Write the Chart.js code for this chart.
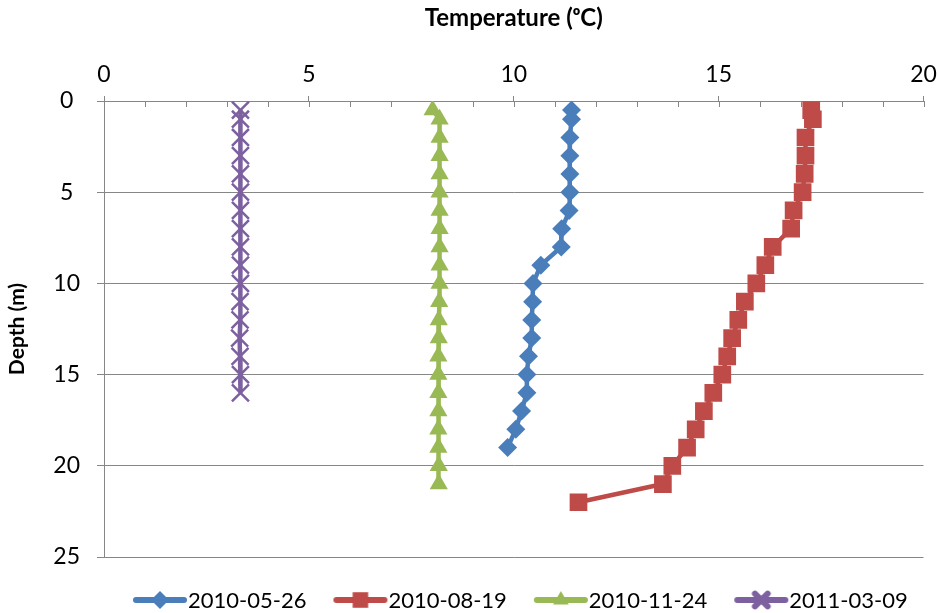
<!DOCTYPE html>
<html>
<head>
<meta charset="utf-8">
<script src="https://cdn.jsdelivr.net/npm/chart.js@4.4.1/dist/chart.umd.min.js"></script>
<style>
  html, body { margin: 0; background: #fff; }
</style>
</head>
<body>
<canvas id="chart" width="938" height="613"></canvas>
<script>
// Series names (sampling dates)
const seriesNames = ['2010-05-26', '2010-08-19', '2010-11-24', '2011-03-09'];

// Depth (m) of each measurement
const depthMay = [0.5, 1, 2, 3, 4, 5, 6, 7, 8, 9, 10, 11, 12, 13, 14, 15, 16, 17, 18, 19];
const depthAug = [0.5, 1, 2, 3, 4, 5, 6, 7, 8, 9, 10, 11, 12, 13, 14, 15, 16, 17, 18, 19, 20, 21, 22];
const depthNov = [0.5, 1, 2, 3, 4, 5, 6, 7, 8, 9, 10, 11, 12, 13, 14, 15, 16, 17, 18, 19, 20, 21];
const depthMar = [0.5, 1, 2, 3, 4, 5, 6, 7, 8, 9, 10, 11, 12, 13, 14, 15, 16];

// Temperature (C) at those depths
const tempMay = [11.41, 11.41, 11.37, 11.37, 11.37, 11.37, 11.35, 11.17, 11.16, 10.66,
                 10.47, 10.46, 10.44, 10.44, 10.36, 10.32, 10.32, 10.19, 10.05, 9.85];
const tempAug = [17.26, 17.30, 17.12, 17.12, 17.10, 17.05, 16.83, 16.77, 16.32, 16.14,
                 15.92, 15.64, 15.48, 15.33, 15.21, 15.09, 14.87, 14.64, 14.44, 14.23,
                 13.87, 13.64, 11.58];
const tempNov = [8.02, 8.19, 8.19, 8.19, 8.19, 8.19, 8.19, 8.19, 8.19, 8.19, 8.19,
                 8.18, 8.17, 8.17, 8.16, 8.16, 8.16, 8.16, 8.16, 8.16, 8.17, 8.17];
const tempMar = [3.33, 3.33, 3.33, 3.33, 3.33, 3.33, 3.33, 3.33, 3.33, 3.33, 3.33,
                 3.32, 3.32, 3.31, 3.32, 3.33, 3.33];

// Axis ticks
const xTicks = [0, 5, 10, 15, 20];
const yTicks = [0, 5, 10, 15, 20, 25];

const colors = ['#4A7EBB', '#BE4B48', '#98B954', '#7D60A0'];
const styles = ['rectRot', 'rect', 'triangle', 'crossRot'];
const radii = [9.5, 12.5, 10.5, 12];
const FONT = 'Lato, "Open Sans", sans-serif';
const GRID = '#868686';

function toPoints(xs, ys) {
    return xs.map((x, i) => ({ x: x, y: ys[i] }));
}

const allTemps = [tempMay, tempAug, tempNov, tempMar];
const allDepths = [depthMay, depthAug, depthNov, depthMar];

const datasets = seriesNames.map((name, i) => ({
    label: name,
    data: toPoints(allTemps[i], allDepths[i]),
    showLine: true,
    borderColor: colors[i],
    backgroundColor: colors[i],
    borderWidth: 4.5,
    pointStyle: styles[i],
    pointRadius: radii[i],
    pointBorderWidth: styles[i] === 'crossRot' ? 2.5 : 0,
    pointBorderColor: colors[i],
    pointBackgroundColor: colors[i],
    tension: 0
}));

// Legend icon: a line with the marker on top
function legendIcon(i) {
    const c = document.createElement('canvas');
    c.width = 56; c.height = 24;
    const ctx = c.getContext('2d');
    ctx.strokeStyle = colors[i];
    ctx.lineWidth = 6;
    ctx.lineCap = 'round';
    ctx.beginPath();
    ctx.moveTo(4, 12);
    ctx.lineTo(52, 12);
    ctx.stroke();
    ctx.fillStyle = colors[i];
    ctx.strokeStyle = colors[i];
    Chart.helpers.drawPoint(ctx, {
        pointStyle: styles[i],
        radius: styles[i] === 'rect' ? 11 : 9,
        rotation: 0,
        borderWidth: styles[i] === 'crossRot' ? 2 : 0
    }, 28, 12);
    return c;
}

// Small inward tick marks on the temperature axis
const innerTicks = {
    id: 'innerTicks',
    beforeDatasetsDraw(chart) {
        const x = chart.scales.x;
        const ctx = chart.ctx;
        ctx.save();
        ctx.strokeStyle = GRID;
        ctx.lineWidth = 1;
        for (let v = 0; v <= 20; v++) {
            const px = Math.round(x.getPixelForValue(v)) + 0.5;
            ctx.beginPath();
            ctx.moveTo(px, chart.chartArea.top);
            ctx.lineTo(px, chart.chartArea.top + 6);
            ctx.stroke();
        }
        ctx.restore();
    }
};

// Legend row under the plot, Excel style (line + marker, then the label)
const lineLegend = {
    id: 'lineLegend',
    afterDraw(chart) {
        const ctx = chart.ctx;
        const y = chart.chartArea.bottom + 43;
        let x = chart.chartArea.left + 28;
        ctx.save();
        ctx.font = '22px ' + FONT;
        ctx.textBaseline = 'middle';
        ctx.fillStyle = '#000';
        seriesNames.forEach((name, i) => {
            ctx.drawImage(legendIcon(i), x, y - 12);
            ctx.fillText(name, x + 56, y + 1);
            x += 56 + ctx.measureText(name).width + 26;
        });
        ctx.restore();
    }
};

new Chart(document.getElementById('chart'), {
    type: 'scatter',
    data: { datasets: datasets },
    options: {
        responsive: false,
        animation: false,
        layout: { padding: { left: 0, right: 13, top: 0, bottom: 56 } },
        scales: {
            x: {
                type: 'linear',
                position: 'top',
                min: 0,
                max: 20,
                afterFit: s => { s.height = 101; s.paddingLeft = 0; s.paddingRight = 0; },
                afterBuildTicks: s => { s.ticks = xTicks.map(v => ({ value: v })); },
                ticks: {
                    font: { family: FONT, size: 23 },
                    color: '#000',
                    padding: 8,
                    maxRotation: 0,
                    autoSkip: false
                },
                grid: { drawOnChartArea: false, drawTicks: true, tickLength: 5, color: GRID },
                border: { color: GRID, width: 1 },
                title: {
                    display: true,
                    text: 'Temperature (\u1D52C)',
                    font: { family: FONT, size: 24, weight: 'bold' },
                    color: '#000',
                    padding: { top: 4, bottom: 0 }
                }
            },
            y: {
                type: 'linear',
                reverse: true,
                min: 0,
                max: 25,
                afterFit: s => { s.width = 104; },
                afterBuildTicks: s => { s.ticks = yTicks.map(v => ({ value: v })); },
                ticks: {
                    font: { family: FONT, size: 23 },
                    color: '#000',
                    padding: 17,
                    crossAlign: 'center'
                },
                grid: { color: GRID, lineWidth: 1, tickLength: 7 },
                border: { color: GRID, width: 1 },
                title: {
                    display: true,
                    text: 'Depth (m)',
                    font: { family: FONT, size: 21, weight: 'bold' },
                    color: '#000',
                    padding: { top: 5, bottom: 0 }
                }
            }
        },
        plugins: {
            tooltip: { enabled: false },
            legend: { display: false }
        }
    },
    plugins: [innerTicks, lineLegend]
});
</script>
</body>
</html>
